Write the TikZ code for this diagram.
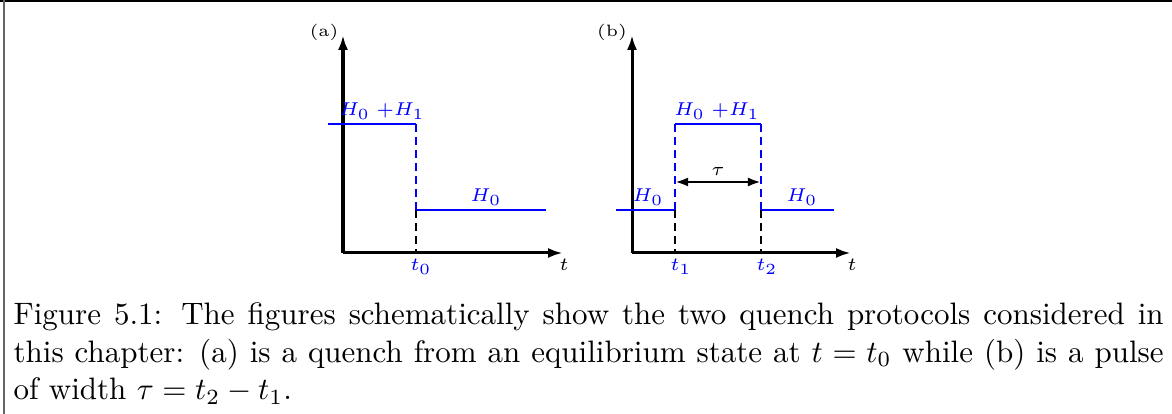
\documentclass[tikz,border=0pt]{standalone}
\usetikzlibrary{arrows.meta}
\begin{document}
\begin{tikzpicture}[x=0.32258pt,y=-0.32258pt,
  axis/.style={line width=0.97pt,-{Latex[length=4.8pt,width=3.2pt]}},
  level/.style={draw=blue,line width=0.7pt},
  bdash/.style={draw=blue,line width=0.7pt,dash pattern=on 2.6pt off 1.6pt},
  kdash/.style={draw=black,line width=0.6pt,dash pattern=on 2.6pt off 1.6pt},
  blab/.style={text=blue,font=\fontsize{6.3}{7}\selectfont,inner sep=0pt},
  klab/.style={font=\fontsize{6.3}{7}\selectfont,inner sep=0pt},
  plab/.style={font=\fontsize{5.3}{6}\selectfont,inner sep=0pt}]
\useasboundingbox (0,0) rectangle (1172,414);
\draw[line width=0.65pt] (0,0.7) -- (1172,0.7);
\draw[line width=0.65pt,black!60] (4,0) -- (4,414);
% panel (a)
\coordinate (ao) at (343,253);
\coordinate (ay) at (343,35);
\coordinate (ax) at (563,253);
\draw[axis] (ao) -- (ay);
\draw[axis] (ao) -- (ax);
\node[plab] (la) at (324,32) {(a)};
\coordinate (a1) at (328,124);
\coordinate (a2) at (416,124);
\coordinate (a3) at (416,210);
\coordinate (a4) at (546,210);
\coordinate (a5) at (416,253);
\draw[level] (a1) -- (a2);
\draw[bdash] (a2) -- (a3);
\draw[level] (a3) -- (a4);
\draw[kdash] (a3) -- (a5);
\node[blab] (ah01) at (382,111) {$H_0\;{+}H_1$};
\node[blab] (ah0) at (486,197) {$H_0$};
\node[blab] (at0) at (421,267) {$t_0$};
\node[klab] (at) at (564,265) {$t$};
% panel (b)
\coordinate (bo) at (632,253);
\coordinate (by) at (632,35);
\coordinate (bx) at (851,253);
\draw[axis] (bo) -- (by);
\draw[axis] (bo) -- (bx);
\node[plab] (lb) at (612,32) {(b)};
\coordinate (b1) at (616,210);
\coordinate (b2) at (675,210);
\coordinate (b3) at (675,124);
\coordinate (b4) at (761,124);
\coordinate (b5) at (761,210);
\coordinate (b6) at (834,210);
\coordinate (b7) at (675,253);
\coordinate (b8) at (761,253);
\draw[level] (b1) -- (b2);
\draw[bdash] (b2) -- (b3);
\draw[level] (b3) -- (b4);
\draw[bdash] (b4) -- (b5);
\draw[level] (b5) -- (b6);
\draw[kdash] (b2) -- (b7);
\draw[kdash] (b5) -- (b8);
\coordinate (tl) at (675,182);
\coordinate (tr) at (761,182);
\draw[line width=0.85pt,{Latex[length=4.2pt,width=2.9pt]}-{Latex[length=4.2pt,width=2.9pt]}] (tl) -- (tr);
\node[klab] (tau) at (718,172) {$\tau$};
\node[blab] (bh01) at (717,111) {$H_0\;{+}H_1$};
\node[blab] (bh0l) at (648,197) {$H_0$};
\node[blab] (bh0r) at (802,197) {$H_0$};
\node[blab] (bt1) at (681,267) {$t_1$};
\node[blab] (bt2) at (767,267) {$t_2$};
\node[klab] (bt) at (852,265) {$t$};
% caption
\node[anchor=north west,inner sep=0pt,text width=371pt,align=justify,font=\fontsize{10}{12}\selectfont] (cap) at (13,302.5)
{Figure 5.1: The figures schematically show the two quench protocols considered in this chapter: (a) is a quench from an equilibrium state at $t=t_0$ while (b) is a pulse of width $\tau=t_2-t_1$.};
\end{tikzpicture}
\end{document}
